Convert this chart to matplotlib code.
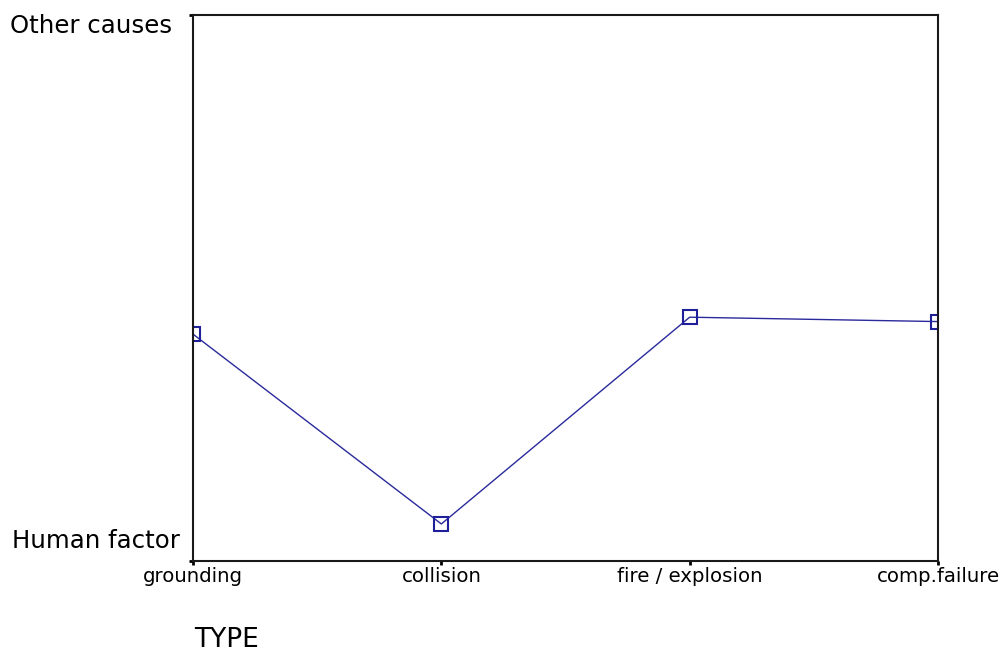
import matplotlib
matplotlib.use("Agg")
import matplotlib.pyplot as plt
from matplotlib.transforms import offset_copy

# Mean cause coding per accident type (1 = Human factor, 2 = Other causes)
types = ["grounding", "collision", "fire / explosion", "comp.failure"]
mean_cause = [1.415, 1.067, 1.446, 1.438]
cause_levels = [1, 2]
cause_labels = ["Human factor", "Other causes"]

fig = plt.figure(figsize=(10.01, 6.52), dpi=100)
ax = fig.add_axes([193 / 1001, 1 - 560.5 / 652, (938 - 193) / 1001, (560.5 - 15) / 652])

x = list(range(len(types)))
ax.plot(x, mean_cause, color="#2a2a9c", linewidth=1.0, marker="s",
        markersize=9.5, markerfacecolor="none", markeredgecolor="#1f1f9a",
        markeredgewidth=1.5)

ax.set_xlim(0, len(types) - 1)
ax.set_ylim(cause_levels[0], cause_levels[-1])

ax.set_xticks(x)
ax.set_xticklabels(types, fontsize=14.2, family="DejaVu Sans")
ax.set_yticks(cause_levels)
ax.set_yticklabels([])

# category names for the y axis, placed beside the end ticks
ytrans = ax.get_yaxis_transform()
ax.text(0, cause_levels[0], cause_labels[0], fontsize=17.6, family="DejaVu Sans",
        ha="right", va="baseline",
        transform=offset_copy(ytrans, fig=fig, x=-13, y=12, units="dots"))
ax.text(0, cause_levels[1], cause_labels[1], fontsize=17.6, family="DejaVu Sans",
        ha="right", va="baseline",
        transform=offset_copy(ytrans, fig=fig, x=-21, y=-18, units="dots"))

ax.tick_params(axis="both", direction="out", length=3, width=2, color="black")
ax.tick_params(axis="x", pad=2)

for s in ax.spines.values():
    s.set_linewidth(1.5)
    s.set_color("#1a1a1a")

fig.text(226 / 1001, 1 - 640 / 652, "TYPE", fontsize=19, family="DejaVu Sans",
         ha="center", va="center")

fig.savefig("out.png", dpi=100, facecolor="white")
